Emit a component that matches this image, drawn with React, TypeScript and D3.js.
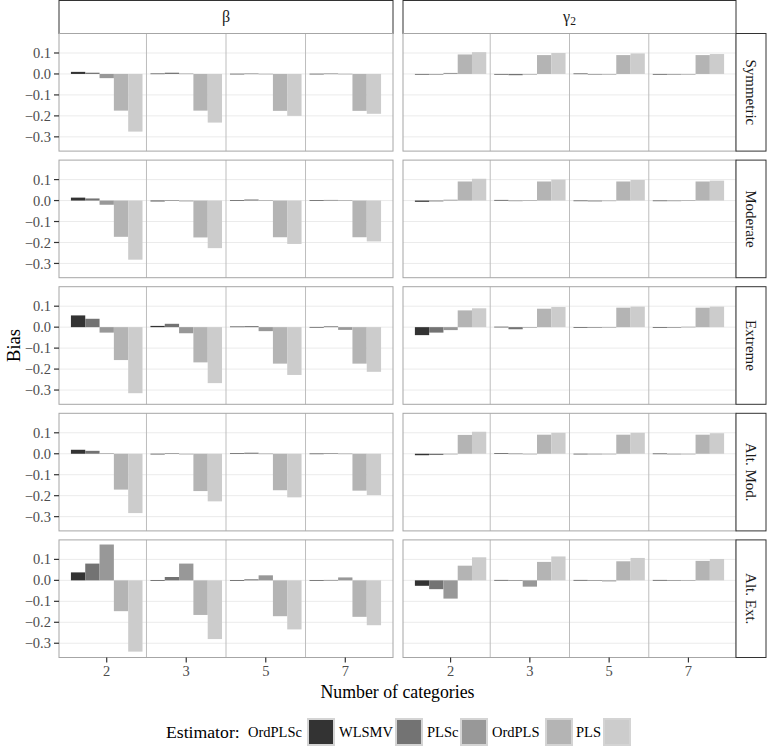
import React from "react";
import * as d3 from "d3";

const parameters = ["β", "γ2"];
const distributions = ["Symmetric", "Moderate", "Extreme", "Alt. Mod.", "Alt. Ext."];
const categories = ["2", "3", "5", "7"];
const estimators = ["OrdPLSc", "WLSMV", "PLSc", "OrdPLS", "PLS"];
const fills = ["#333333", "#737373", "#989898", "#b4b4b4", "#cccccc"];
const yTicks = [0.1, 0.0, -0.1, -0.2, -0.3];

// values: [category][estimator] (OrdPLSc, WLSMV, PLSc, OrdPLS, PLS)
const betaSymmetric = [
  [0.010, 0.006, -0.020, -0.175, -0.275],
  [0.002, 0.006, 0.002, -0.175, -0.232],
  [0.001, 0.002, 0.001, -0.176, -0.200],
  [0.001, 0.002, 0.001, -0.176, -0.190],
];
const betaModerate = [
  [0.014, 0.010, -0.020, -0.173, -0.282],
  [-0.004, 0.002, -0.004, -0.176, -0.227],
  [0.001, 0.005, 0.001, -0.175, -0.207],
  [0.001, 0.003, 0.001, -0.175, -0.195],
];
const betaExtreme = [
  [0.056, 0.040, -0.026, -0.157, -0.315],
  [0.006, 0.016, -0.029, -0.168, -0.267],
  [0.003, 0.005, -0.019, -0.174, -0.228],
  [0.001, 0.004, -0.013, -0.174, -0.213],
];
const betaAltMod = [
  [0.019, 0.014, 0.003, -0.171, -0.283],
  [-0.003, 0.002, -0.003, -0.178, -0.227],
  [0.002, 0.005, 0.001, -0.174, -0.208],
  [0.001, 0.003, 0.001, -0.176, -0.197],
];
const betaAltExt = [
  [0.038, 0.080, 0.171, -0.147, -0.340],
  [-0.003, 0.016, 0.080, -0.165, -0.280],
  [-0.003, 0.005, 0.024, -0.171, -0.234],
  [-0.002, 0.002, 0.014, -0.174, -0.214],
];
const gammaSymmetric = [
  [-0.002, -0.002, 0.005, 0.093, 0.104],
  [-0.002, -0.006, -0.002, 0.090, 0.100],
  [0.002, -0.002, 0.000, 0.090, 0.098],
  [0.000, -0.002, 0.000, 0.090, 0.095],
];
const gammaModerate = [
  [-0.006, -0.004, 0.004, 0.091, 0.104],
  [0.003, 0.000, 0.001, 0.091, 0.100],
  [0.000, -0.004, 0.000, 0.091, 0.098],
  [0.000, 0.000, 0.001, 0.091, 0.095],
];
const gammaExtreme = [
  [-0.038, -0.026, -0.014, 0.080, 0.090],
  [0.002, -0.010, 0.000, 0.088, 0.096],
  [-0.002, -0.003, 0.001, 0.093, 0.098],
  [0.000, 0.000, 0.002, 0.093, 0.098],
];
const gammaAltMod = [
  [-0.007, -0.006, -0.001, 0.090, 0.105],
  [0.003, 0.001, 0.000, 0.091, 0.100],
  [-0.001, -0.001, -0.001, 0.091, 0.100],
  [0.001, 0.000, 0.000, 0.091, 0.098],
];
const gammaAltExt = [
  [-0.026, -0.042, -0.087, 0.070, 0.110],
  [0.002, -0.003, -0.030, 0.088, 0.114],
  [0.002, -0.002, -0.005, 0.091, 0.107],
  [0.002, 0.000, -0.003, 0.093, 0.102],
];

const dataByParam = [
  [betaSymmetric, betaModerate, betaExtreme, betaAltMod, betaAltExt],
  [gammaSymmetric, gammaModerate, gammaExtreme, gammaAltMod, gammaAltExt],
];

const FONT = "'Liberation Serif', 'DejaVu Serif', serif";

export default function App() {
  const W = 767, H = 747;
  const panelTop = 33.5, panelH = 117.6, gap = 9;
  const cols = [{ x0: 59, x1: 393 }, { x0: 403, x1: 736 }];
  const stripX1 = 766;
  const y = d3.scaleLinear().domain([-0.368, 0.193]).range([panelH, 0]);
  const fmt = (v: number) => (v < 0 ? "\u2212" : "") + Math.abs(v).toFixed(1);
  const dodge = 0.9;
  const bw = dodge / estimators.length;
  const bottom = panelTop + 5 * panelH + 4 * gap;

  const panels: React.ReactNode[] = [];
  dataByParam.forEach((paramData, ci) => {
    const { x0, x1 } = cols[ci];
    const x = d3.scaleLinear().domain([-0.6, categories.length - 0.4]).range([0, x1 - x0]);
    paramData.forEach((rows, ri) => {
      const top = panelTop + ri * (panelH + gap);
      panels.push(
        <g key={`p${ci}-${ri}`} transform={`translate(${x0},${top})`}>
          <rect x={0} y={0} width={x1 - x0} height={panelH} fill="#fff" />
          {yTicks.map((t) => (
            <line key={t} x1={0} x2={x1 - x0} y1={y(t)} y2={y(t)} stroke="#ebebeb" strokeWidth={1} />
          ))}
          {categories.slice(0, -1).map((_, i) => (
            <line key={i} x1={x(i + 0.5)} x2={x(i + 0.5)} y1={0} y2={panelH} stroke="#bdbdbd" strokeWidth={1} />
          ))}
          {rows.map((vals, i) =>
            vals.map((v, j) => {
              const bx = x(i - dodge / 2 + j * bw);
              const bx2 = x(i - dodge / 2 + (j + 1) * bw);
              const y0 = y(0), y1 = y(v);
              return (
                <rect key={`${i}-${j}`} x={bx} width={bx2 - bx} y={Math.min(y0, y1)}
                  height={Math.max(Math.abs(y1 - y0), 0.6)} fill={fills[j]} />
              );
            })
          )}
          <rect x={0} y={0} width={x1 - x0} height={panelH} fill="none" stroke="#a6a6a6" strokeWidth={1} />
          {ci === 0 && yTicks.map((t) => (
            <g key={`yt${t}`}>
              <line x1={-5} x2={0} y1={y(t)} y2={y(t)} stroke="#333" strokeWidth={1.2} />
              <text x={-8} y={y(t)} dy="0.35em" textAnchor="end" fontSize={14.5} fill="#4d4d4d" fontFamily={FONT}>{fmt(t)}</text>
            </g>
          ))}
          {ri === 4 && categories.map((c, i) => (
            <g key={`xt${c}`}>
              <line x1={x(i)} x2={x(i)} y1={panelH} y2={panelH + 5} stroke="#333" strokeWidth={1.2} />
              <text x={x(i)} y={panelH + 19} textAnchor="middle" fontSize={14.5} fill="#4d4d4d" fontFamily={FONT}>{c}</text>
            </g>
          ))}
          {ci === 1 && (
            <g>
              <rect x={x1 - x0} y={0} width={stripX1 - x1} height={panelH} fill="#fff" stroke="#333" strokeWidth={1} />
              <text transform={`translate(${x1 - x0 + (stripX1 - x1) / 2},${panelH / 2}) rotate(90)`}
                textAnchor="middle" dy="0.35em" fontSize={15} fill="#1a1a1a" fontFamily={FONT}>{distributions[ri]}</text>
            </g>
          )}
        </g>
      );
    });
  });

  const legendItems = [
    { x: 248, k: 308 },
    { x: 339, k: 396 },
    { x: 427, k: 461 },
    { x: 492, k: 546 },
    { x: 576, k: 604 },
  ];

  return (
    <svg width={W} height={H} style={{ position: "absolute", left: 0, top: 0 }} fontFamily={FONT}>
      <rect width={W} height={H} fill="#fff" />
      {parameters.map((p, ci) => {
        const { x0, x1 } = cols[ci];
        return (
          <g key={p}>
            <rect x={x0} y={0.5} width={x1 - x0} height={panelTop - 0.5} fill="#fff" stroke="#333" strokeWidth={1} />
            <text x={(x0 + x1) / 2} y={panelTop / 2} dy="0.35em" textAnchor="middle" fontSize={16} fill="#1a1a1a">
              {p === "γ2" ? (<>γ<tspan fontSize={11.5} dy="3">2</tspan></>) : p}
            </text>
          </g>
        );
      })}
      {panels}
      <text transform={`translate(14,${(panelTop + bottom) / 2}) rotate(-90)`} textAnchor="middle" dy="0.35em" fontSize={18.5} fill="#000">Bias</text>
      <text x={(cols[0].x0 + cols[1].x1) / 2} y={bottom + 40} textAnchor="middle" fontSize={17.8} fill="#000">Number of categories</text>
      <text x={166} y={732} dy="0.35em" fontSize={17.7} fill="#000">Estimator:</text>
      {estimators.map((e, j) => (
        <g key={e}>
          <text x={legendItems[j].x} y={732} dy="0.35em" fontSize={14.5} fill="#000">{e}</text>
          <rect x={legendItems[j].k} y={719} width={26} height={26} fill={fills[j]} stroke="#d4d4d4" strokeWidth={2} />
        </g>
      ))}
    </svg>
  );
}
